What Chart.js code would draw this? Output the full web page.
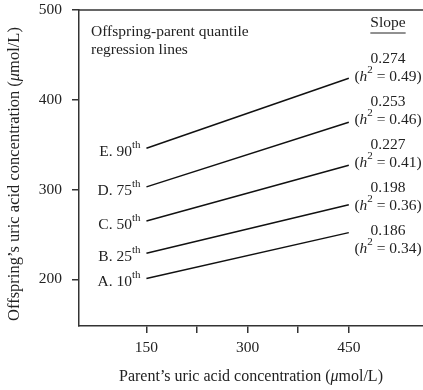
<!DOCTYPE html>
<html lang="en">
<head>
<meta charset="UTF-8">
<title>Offspring-parent quantile regression lines</title>
<script src="https://cdn.jsdelivr.net/npm/chart.js"></script>
<style>
    html, body { margin: 0; padding: 0; background: #fff; }
    #chart { display: block; }
</style>
</head>
<body>
<canvas id="chart" width="423" height="390"></canvas>
<script>
// values
const quantiles = ['A. 10', 'B. 25', 'C. 50', 'D. 75', 'E. 90'];
const parentX = [150, 450];
const startVals = [201, 229, 265, 303, 346];
const endVals = [252, 283, 327, 375, 424];
const slopes = ['0.186', '0.198', '0.227', '0.253', '0.274'];
const h2Vals = ['0.34', '0.36', '0.41', '0.46', '0.49'];
const yTicks = [200, 300, 400, 500];
const xTicks = [150, 225, 300, 375, 450];
const xTickLabels = ['150', '', '300', '', '450'];

const serif = '"Liberation Serif", "DejaVu Serif", serif';
const ink = '#222';
const axisColor = '#333';

// draw a row of text pieces with different fonts / offsets
function richText(ctx, parts, x, y, align) {
    let total = 0;
    parts.forEach(p => { ctx.font = p.font; total += ctx.measureText(p.t).width; });
    let cx = align === 'right' ? x - total : align === 'center' ? x - total / 2 : x;
    parts.forEach(p => {
        ctx.font = p.font;
        ctx.fillText(p.t, cx, y + (p.dy || 0));
        cx += ctx.measureText(p.t).width;
    });
}

const labelsPlugin = {
    id: 'labels',
    afterDraw(chart) {
        const ctx = chart.ctx;
        const xs = chart.scales.x, ys = chart.scales.y;
        const area = chart.chartArea;
        const f = '15.5px ' + serif;
        const fi = 'italic 15.5px ' + serif;
        const fs = '11px ' + serif;
        const colX = 388;
        ctx.save();

        // top frame line
        ctx.strokeStyle = axisColor;
        ctx.lineWidth = 1.5;
        ctx.beginPath();
        ctx.moveTo(area.left, area.top);
        ctx.lineTo(area.right, area.top);
        ctx.stroke();

        ctx.fillStyle = ink;
        ctx.textBaseline = 'middle';
        ctx.textAlign = 'left';

        // heading
        ctx.font = f;
        ctx.fillText('Offspring-parent quantile', 91, 32);
        ctx.fillText('regression lines', 91, 50);

        ctx.textAlign = 'center';
        ctx.fillText('Slope', colX, 23);
        const sw = ctx.measureText('Slope').width;
        ctx.beginPath();
        ctx.lineWidth = 1;
        ctx.strokeStyle = ink;
        ctx.moveTo(colX - sw / 2, 33);
        ctx.lineTo(colX + sw / 2, 33);
        ctx.stroke();

        ctx.textAlign = 'left';
        const n = quantiles.length;
        quantiles.forEach((q, i) => {
            const x0 = xs.getPixelForValue(parentX[0]);
            const y0 = ys.getPixelForValue(startVals[i]);
            richText(ctx, [{t: q, font: f}, {t: 'th', font: fs, dy: -7}], x0 - 6, y0 + 4, 'right');

            // slope column: evenly stacked from the top (E first)
            const row = n - 1 - i;
            const hy = 77 + row * 43;
            richText(ctx, [
                {t: '(', font: f}, {t: 'h', font: fi}, {t: '2', font: fs, dy: -7},
                {t: ' = ' + h2Vals[i] + ')', font: f}
            ], colX, hy, 'center');
            richText(ctx, [{t: slopes[i], font: f}], colX, hy - 18, 'center');
        });

        // axis titles
        const ft = '16px ' + serif, fti = 'italic 16px ' + serif;
        richText(ctx, [
            {t: 'Parent\u2019s uric acid concentration (', font: ft}, {t: '\u03bc', font: fti},
            {t: 'mol/L)', font: ft}
        ], 251, 377, 'center');

        const fy = '16.5px ' + serif, fyi = 'italic 16.5px ' + serif;
        ctx.translate(15, 174);
        ctx.rotate(-Math.PI / 2);
        richText(ctx, [
            {t: 'Offspring\u2019s uric acid concentration (', font: fy}, {t: '\u03bc', font: fyi},
            {t: 'mol/L)', font: fy}
        ], 0, 0, 'center');
        ctx.restore();
    }
};

const datasets = quantiles.map((q, i) => ({
    label: q,
    data: [{x: parentX[0], y: startVals[i]}, {x: parentX[1], y: endVals[i]}],
    showLine: true,
    borderColor: '#111',
    borderWidth: 1.5,
    pointRadius: 0,
    fill: false
}));

new Chart(document.getElementById('chart'), {
    type: 'scatter',
    data: { datasets: datasets },
    options: {
        responsive: false,
        animation: false,
        layout: { padding: { top: 10, right: 0, left: 0, bottom: 0 } },
        plugins: { legend: { display: false }, tooltip: { enabled: false } },
        scales: {
            x: {
                type: 'linear',
                min: 50,
                max: 560,
                afterBuildTicks: s => { s.ticks = xTicks.map(v => ({value: v})); },
                afterFit: s => { s.height = 64; s.paddingLeft = 0; s.paddingRight = 0; },
                ticks: {
                    callback: (v) => xTickLabels[xTicks.indexOf(v)],
                    color: ink,
                    font: { family: serif, size: 15.5 },
                    padding: 6,
                    maxRotation: 0
                },
                grid: { drawOnChartArea: false, drawTicks: true, tickLength: 7, color: axisColor, lineWidth: 1.5 },
                border: { display: true, color: axisColor, width: 1.5 }
            },
            y: {
                type: 'linear',
                min: 148,
                max: 500,
                afterBuildTicks: s => { s.ticks = yTicks.map(v => ({value: v})); },
                afterFit: s => { s.width = 79; s.paddingTop = 0; s.paddingBottom = 0; },
                ticks: {
                    color: ink,
                    font: { family: serif, size: 15.5 },
                    padding: 10
                },
                grid: { drawOnChartArea: false, drawTicks: true, tickLength: 7, color: axisColor, lineWidth: 1.5 },
                border: { display: true, color: axisColor, width: 1.5 }
            }
        }
    },
    plugins: [labelsPlugin]
});
</script>
</body>
</html>
